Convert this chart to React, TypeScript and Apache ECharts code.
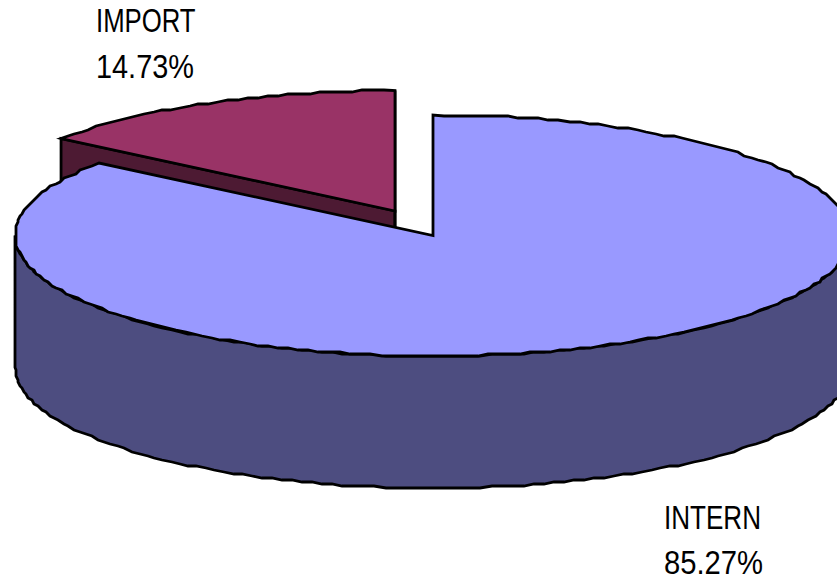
import React, { useEffect, useRef } from "react";
import * as echarts from "echarts";

const names = ["IMPORT", "INTERN"];
const values = [14.73, 85.27];
const topColors = ["#993366", "#9999FF"];
const sideColors = ["#4D1A33", "#4D4D80"];

const CX = 433;
const CY = 235.5;
const RX = 418;
const RY = 120.5;
const DEPTH = 132;
const EXPLODE = [[-38, -24.5], [0, 0]];
const LABELS = [
  { x: 96, y1: 33, y2: 79, sx1: 0.78, sx2: 0.875 },
  { x: 664, y1: 530, y2: 575, sx1: 0.79, sx2: 0.885 },
];
const BASELINE_SHIFT = 29;

const q = (v: number) => Math.round(v / 2) * 2;
const TAU = Math.PI * 2;

function arc(a0: number, a1: number, ox: number, oy: number, jag: boolean) {
  const len = Math.abs(a1 - a0) * RX * 0.75;
  const n = Math.max(2, Math.round(len / 8));
  const pts: number[][] = [];
  for (let i = 0; i <= n; i++) {
    const a = a0 + ((a1 - a0) * i) / n;
    const x = CX + ox + RX * Math.sin(a);
    const y = CY + oy - RY * Math.cos(a);
    pts.push(jag && i > 0 && i < n ? [q(x), q(y)] : [x, y]);
  }
  return pts;
}

const lineStyle = { stroke: "#000", lineWidth: 2.8, lineJoin: "miter" as const, miterLimit: 10 };

function renderItem(params: any, api: any) {
  const idx = params.dataIndex;
  const val = api.value(0) as number;
  const sum = values.reduce((s, v) => s + v, 0);
  let start = (-values[0] / sum) * TAU;
  for (let i = 0; i < idx; i++) start += (values[i] / sum) * TAU;
  const end = start + (val / sum) * TAU;
  const [ox, oy] = EXPLODE[idx];
  const apex = [CX + ox, CY + oy];
  const children: any[] = [];
  const side = sideColors[idx];

  // Outer wall: only the part of the rim on the front half is visible.
  const from = Math.max(start, Math.PI / 2);
  const to = Math.min(end, Math.PI * 1.5);
  if (to > from) {
    const topRim = arc(from, to, ox, oy, true);
    const botRim = arc(to, from, ox, oy + DEPTH, true);
    children.push({
      type: "polygon",
      shape: { points: [...topRim, ...botRim] },
      style: { fill: side, ...lineStyle },
    });
  } else {
    // A small slice shows its cut faces instead of a rim.
    for (const a of [start, end]) {
      const p = [apex[0] + RX * Math.sin(a), apex[1] - RY * Math.cos(a)];
      children.push({
        type: "polygon",
        shape: { points: [apex, p, [p[0], p[1] + DEPTH], [apex[0], apex[1] + DEPTH]] },
        style: { fill: side, ...lineStyle },
      });
    }
  }
  // Top face.
  children.push({
    type: "polygon",
    shape: { points: [apex, ...arc(start, end, ox, oy, true)] },
    style: { fill: topColors[idx], ...lineStyle },
  });
  // Data label.
  const lab = LABELS[idx];
  const font = '33px "Liberation Sans", Arial, sans-serif';
  children.push({
    type: "text",
    x: lab.x,
    y: lab.y1 - BASELINE_SHIFT,
    scaleX: lab.sx1,
    style: { text: names[idx], fill: "#000", font, textBaseline: "alphabetic", textAlign: "left" },
  });
  children.push({
    type: "text",
    x: lab.x,
    y: lab.y2 - BASELINE_SHIFT,
    scaleX: lab.sx2,
    style: { text: val.toFixed(2) + "%", fill: "#000", font, textBaseline: "alphabetic", textAlign: "left" },
  });
  return { type: "group", children };
}

export default function App() {
  const ref = useRef<HTMLDivElement>(null);
  useEffect(() => {
    document.body.style.margin = "0";
    document.body.style.overflow = "hidden";
    const chart = echarts.init(ref.current!, undefined, { renderer: "svg" });
    chart.setOption({
      animation: false,
      backgroundColor: "#ffffff",
      series: [
        {
          type: "custom",
          coordinateSystem: "none",
          silent: true,
          clip: false,
          renderItem,
          data: values.map((v, i) => ({ name: names[i], value: [v] })),
        },
      ],
    });
    return () => chart.dispose();
  }, []);
  return <div ref={ref} style={{ width: 837, height: 581 }} />;
}
